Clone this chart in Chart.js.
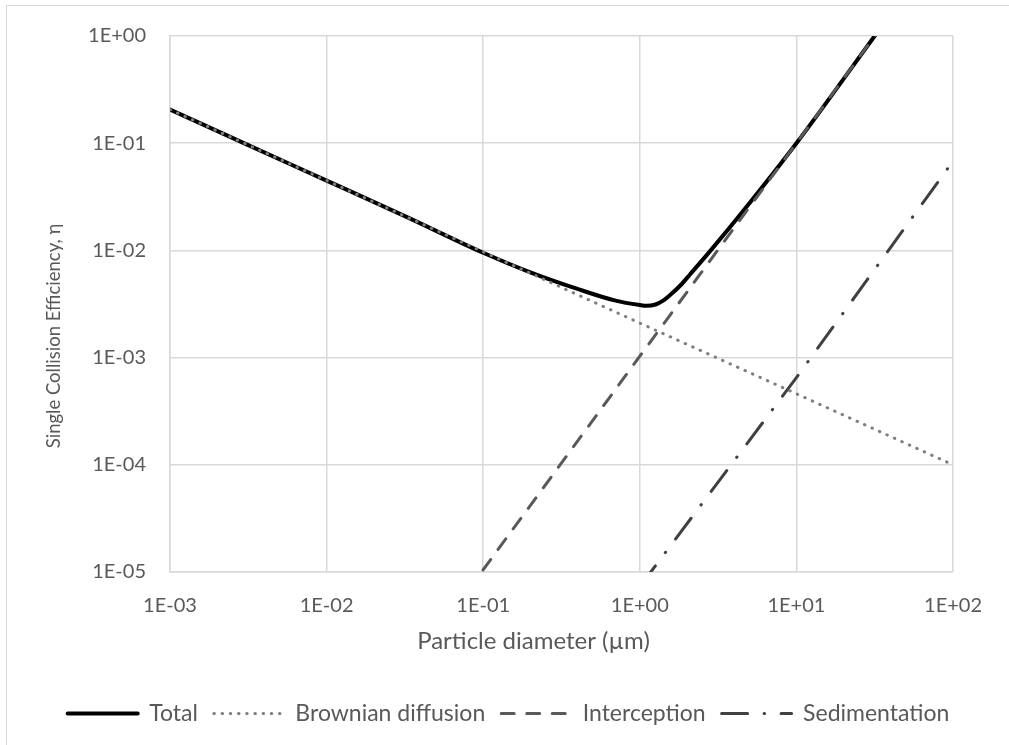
<!DOCTYPE html>
<html>
<head>
<meta charset="utf-8">
<script src="https://cdn.jsdelivr.net/npm/chart.js@4.4.1/dist/chart.umd.min.js"></script>
<style>
  html, body { margin: 0; padding: 0; background: #fff; overflow: hidden; }
  #wrap { position: relative; width: 1009px; height: 745px; overflow: hidden; }
  #frame { position: absolute; left: 6px; top: 5px; width: 1100px; height: 900px; border: 1px solid #d9d9d9; box-sizing: border-box; }
  #c { position: absolute; left: 0; top: 0; }
</style>
</head>
<body>
<div id="wrap">
  <div id="frame"></div>
  <canvas id="c" width="1009" height="745"></canvas>
</div>
<script>
// ---- data ----
const xTickValues = [1e-3, 1e-2, 1e-1, 1e0, 1e1, 1e2];
const xTickLabels = ['1E-03', '1E-02', '1E-01', '1E+00', '1E+01', '1E+02'];
const yTickValues = [1e-5, 1e-4, 1e-3, 1e-2, 1e-1, 1e0];
const yTickLabels = ['1E-05', '1E-04', '1E-03', '1E-02', '1E-01', '1E+00'];

const seriesNames = ['Total', 'Brownian diffusion', 'Interception', 'Sedimentation'];

const totalX = [0.001, 0.00316, 0.01, 0.0316, 0.1, 0.2, 0.4, 0.7, 1.0, 1.1, 1.26, 1.41, 1.58, 1.82, 2.09, 2.82, 4.57, 10, 31.6, 50];
const totalY = [0.206, 0.0959, 0.0448, 0.0209, 0.0095, 0.00624, 0.00437, 0.0034, 0.00309, 0.00304, 0.00313, 0.0034, 0.00389, 0.00473, 0.00596, 0.0099, 0.0233, 0.1, 1.0, 2.5];

const brownianX = [0.001, 0.01, 0.1, 1, 10, 100];
const brownianY = [0.206, 0.0448, 0.0097, 0.0021, 0.00046, 0.0001];

const interceptionX = [0.08, 0.1, 1, 10, 31.6, 40];
const interceptionY = [0.0000067, 0.0000105, 0.00103, 0.1, 1.0, 1.6];

const sedimentationX = [1, 10, 100];
const sedimentationY = [0.0000073, 0.00065, 0.068];

// ---- build chart ----
const toPts = (xs, ys) => xs.map((x, i) => ({ x: x, y: ys[i] }));
const FONT = "Lato, 'Open Sans', sans-serif";
const TXT = '#595959';
const GRID = '#d9d9d9';

// nudge the axis titles to where the reference places them
const titleShift = {
  id: 'titleShift',
  beforeDraw(chart) {
    const sx = chart.scales.x;
    if (sx && !sx._shiftPatched) {
      const orig = sx.drawTitle.bind(sx);
      sx.drawTitle = function () {
        const l = this.left;
        this.left = l - 56;
        orig();
        this.left = l;
      };
      sx._shiftPatched = true;
    }
    const sy = chart.scales.y;
    if (sy && !sy._shiftPatched) {
      const origY = sy.drawTitle.bind(sy);
      sy.drawTitle = function () {
        const t = this.top;
        this.top = t + 64;
        origY();
        this.top = t;
      };
      sy._shiftPatched = true;
    }
  }
};

new Chart(document.getElementById('c'), {
  type: 'line',
  data: {
    datasets: [
      {
        label: seriesNames[0], data: toPts(totalX, totalY), order: 5,
        borderColor: '#000000', backgroundColor: '#000000', borderWidth: 4,
        cubicInterpolationMode: 'monotone', pointRadius: 0, clip: 0,
        borderCapStyle: 'round', borderJoinStyle: 'round'
      },
      {
        label: seriesNames[1], data: toPts(brownianX, brownianY), order: 1,
        borderColor: '#7f7f7f', backgroundColor: '#7f7f7f', borderWidth: 3,
        borderDash: [0.5, 7.7], borderCapStyle: 'round', tension: 0, pointRadius: 0, clip: 0
      },
      {
        label: seriesNames[2], data: toPts(interceptionX, interceptionY), order: 2,
        borderColor: '#595959', backgroundColor: '#595959', borderWidth: 3,
        borderDash: [13, 12.5], borderCapStyle: 'round', tension: 0, pointRadius: 0, clip: 0
      },
      {
        label: seriesNames[3], data: toPts(sedimentationX, sedimentationY), order: 3,
        borderColor: '#404040', backgroundColor: '#404040', borderWidth: 3,
        borderDash: [26, 16.5, 0.5, 16.5], borderCapStyle: 'round', tension: 0, pointRadius: 0, clip: 0
      }
    ]
  },
  plugins: [titleShift],
  options: {
    responsive: false,
    animation: false,
    devicePixelRatio: 1,
    layout: { padding: { left: 8, top: 34, right: 0, bottom: 10 } },
    plugins: {
      tooltip: { enabled: false },
      legend: {
        position: 'bottom',
        labels: {
          usePointStyle: true, pointStyle: 'line', pointStyleWidth: 70,
          font: { family: FONT, size: 23 }, color: TXT, padding: 16,
          generateLabels: chart => Chart.defaults.plugins.legend.labels.generateLabels(chart).map(item => {
            const ds = chart.data.datasets[item.datasetIndex];
            item.lineDash = ds.borderDash || [];
            item.lineWidth = ds.borderWidth;
            item.lineCap = ds.borderCapStyle || 'butt';
            item.strokeStyle = ds.borderColor;
            item.fillStyle = ds.borderColor;
            item.pointStyle = 'line';
            return item;
          }).sort((a, b) => a.datasetIndex - b.datasetIndex)
        }
      }
    },
    scales: {
      x: {
        type: 'logarithmic', min: 1e-3, max: 1e2,
        afterBuildTicks: s => { s.ticks = xTickValues.map(v => ({ value: v })); },
        afterFit: s => { s.height = 114; },
        grid: { color: GRID, lineWidth: 1.5, drawTicks: false },
        border: { color: GRID, width: 1.5 },
        ticks: {
          autoSkip: false, maxRotation: 0, padding: 22, color: TXT,
          font: { family: FONT, size: 20 },
          callback: (v, i) => xTickLabels[i]
        },
        title: {
          display: true, text: 'Particle diameter (µm)', color: TXT,
          font: { family: FONT, size: 24 }, padding: { top: 0, bottom: 30 }
        }
      },
      y: {
        type: 'logarithmic', min: 1e-5, max: 1,
        afterBuildTicks: s => { s.ticks = yTickValues.map(v => ({ value: v })); },
        afterFit: s => { s.width = 162; },
        grid: { color: GRID, lineWidth: 1.5, drawTicks: false },
        border: { color: GRID, width: 1.5 },
        ticks: {
          autoSkip: false, padding: 24, color: TXT,
          font: { family: FONT, size: 20 },
          callback: (v, i) => yTickLabels[i]
        },
        title: {
          display: true, text: 'Single Collision Efficiency, η', color: TXT,
          font: { family: FONT, size: 18.5 }, padding: { top: 35, bottom: 0 }
        }
      },
      yR: {
        position: 'right', display: true,
        afterFit: s => { s.width = 56; },
        grid: { display: false, drawTicks: false },
        border: { display: false },
        ticks: { display: false }
      }
    }
  }
});
</script>
</body>
</html>
